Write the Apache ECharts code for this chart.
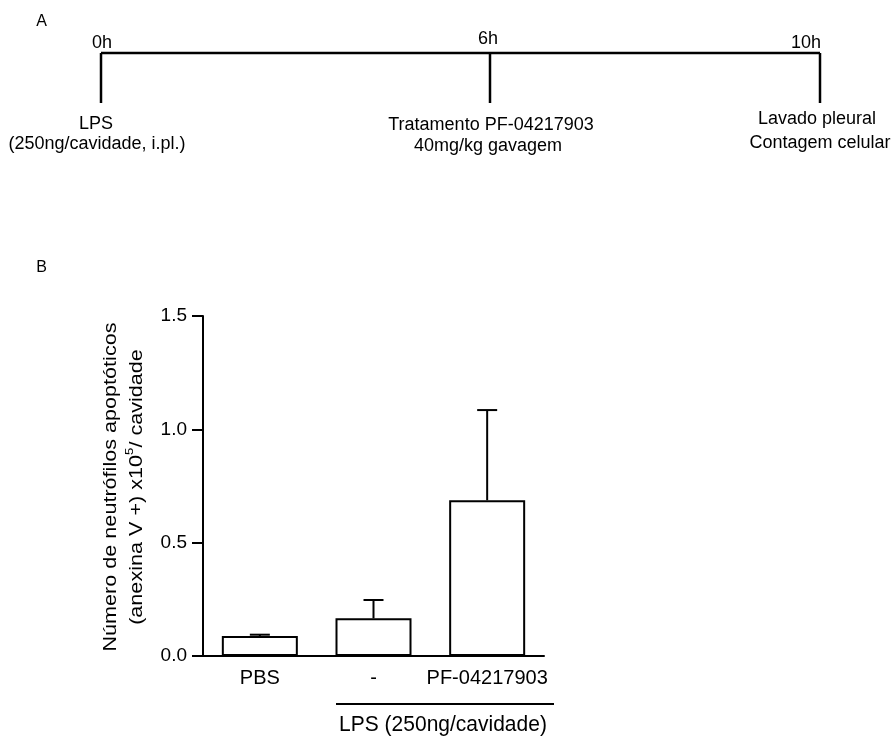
<!DOCTYPE html>
<html>
<head>
<meta charset="utf-8">
<script src="https://cdn.jsdelivr.net/npm/echarts@6/dist/echarts.min.js"></script>
<style>
html,body{margin:0;padding:0;background:#fff;}
#main{width:894px;height:736px;}
</style>
</head>
<body>
<div id="main"></div>
<script>
// ---- Data ----
var categories = ['PBS', '-', 'PF-04217903'];
var means = [0.088, 0.166, 0.687];
var errUpper = [0.094, 0.247, 1.085];
var yTicks = [0, 0.5, 1.0, 1.5];
var timelineTimes = ['0h', '6h', '10h'];
var timelineLine1 = ['LPS', 'Tratamento PF-04217903', 'Lavado pleural'];
var timelineLine2 = ['(250ng/cavidade, i.pl.)', '40mg/kg gavagem', 'Contagem celular'];
var groupLabel = 'LPS (250ng/cavidade)';
var yTitle1 = 'Número de neutrófilos apoptóticos';
var yTitle2 = '(anexina V +) x10{sup|5}/ cavidade';

var FONT = 'Liberation Sans, Arial, sans-serif';
var chart = echarts.init(document.getElementById('main'), null, {renderer: 'canvas'});

// timeline layout (diagram, not data)
var tlX = [101, 490, 820];
var tlY = 53, tlBottom = 103;
var tlTimeX = [102, 488, 806];
var tlTimeY = [43, 39, 43];
var tlL1X = [96, 491, 817], tlL1Y = [124, 125, 119];
var tlL2X = [97, 488, 820], tlL2Y = [144, 146, 143];

var graphics = [];
graphics.push({type:'text', x: 41.5, y: 22, style:{text:'A', font:'16px ' + FONT, fill:'#000', align:'center', verticalAlign:'middle'}});
graphics.push({type:'text', x: 41.5, y: 268, style:{text:'B', font:'16px ' + FONT, fill:'#000', align:'center', verticalAlign:'middle'}});
graphics.push({type:'line', shape:{x1: tlX[0], y1: tlY, x2: tlX[2], y2: tlY}, style:{stroke:'#000', lineWidth:2.5}});
for (var i = 0; i < tlX.length; i++) {
  graphics.push({type:'line', shape:{x1: tlX[i], y1: tlY, x2: tlX[i], y2: tlBottom}, style:{stroke:'#000', lineWidth:2.5}});
  graphics.push({type:'text', x: tlTimeX[i], y: tlTimeY[i], style:{text: timelineTimes[i], font:'18px ' + FONT, fill:'#000', align:'center', verticalAlign:'middle'}});
  graphics.push({type:'text', x: tlL1X[i], y: tlL1Y[i], style:{text: timelineLine1[i], font:'18px ' + FONT, fill:'#000', align:'center', verticalAlign:'middle'}});
  graphics.push({type:'text', x: tlL2X[i], y: tlL2Y[i], style:{text: timelineLine2[i], font:'18px ' + FONT, fill:'#000', align:'center', verticalAlign:'middle'}});
}
// LPS group bracket
graphics.push({type:'line', shape:{x1: 336, y1: 704, x2: 554, y2: 704}, style:{stroke:'#000', lineWidth:2}});
graphics.push({type:'text', x: 443, y: 725, scaleY: 1.05, style:{text: groupLabel, font:'21px ' + FONT, fill:'#000', align:'center', verticalAlign:'middle'}});
// y-axis title (two lines, rotated)
graphics.push({type:'text', x: 124, y: 487, rotation: Math.PI / 2, scaleX: 1.2,
  style:{text: yTitle1 + '\n' + yTitle2, font:'18px ' + FONT, lineHeight: 26, fill:'#000', align:'center', verticalAlign:'middle',
    rich: {sup: {fontSize: 11, fontFamily: FONT, verticalAlign: 'top', lineHeight: 14, fill: '#000'}}}});

var option = {
  backgroundColor: '#fff',
  animation: false,
  textStyle: {fontFamily: FONT},
  grid: {left: 203, right: 350, top: 316, bottom: 80, containLabel: false},
  xAxis: {
    type: 'category',
    data: categories,
    axisLine: {lineStyle: {color: '#000', width: 2}},
    axisTick: {alignWithLabel: true, length: 9, lineStyle: {color: '#000', width: 2}},
    axisLabel: {color: '#000', fontSize: 20, margin: 12, fontFamily: FONT, interval: 0}
  },
  yAxis: {
    type: 'value',
    min: yTicks[0], max: yTicks[yTicks.length - 1], interval: 0.5,
    axisLine: {show: true, lineStyle: {color: '#000', width: 2}},
    axisTick: {show: true, length: 11, lineStyle: {color: '#000', width: 2}},
    axisLabel: {color: '#000', fontSize: 19, margin: 16, fontFamily: FONT,
      formatter: function (v) { return v.toFixed(1); }},
    splitLine: {show: false}
  },
  series: [
    {
      type: 'bar',
      data: means,
      barWidth: 76,
      itemStyle: {color: '#fff', borderColor: '#000', borderWidth: 2},
      z: 2
    },
    {
      type: 'custom',
      z: 1,
      data: categories.map(function (c, i) { return [i, means[i], errUpper[i]]; }),
      renderItem: function (params, api) {
        var x = api.value(0);
        var top = api.coord([x, api.value(2)]);
        var base = api.coord([x, api.value(1)]);
        var half = 10;
        return {
          type: 'group',
          children: [
            {type: 'line', shape: {x1: top[0], y1: top[1], x2: base[0], y2: base[1]}, style: {stroke: '#000', lineWidth: 2}},
            {type: 'line', shape: {x1: top[0] - half, y1: top[1], x2: top[0] + half, y2: top[1]}, style: {stroke: '#000', lineWidth: 2}}
          ]
        };
      }
    }
  ],
  graphic: graphics
};
chart.setOption(option);
</script>
</body>
</html>
